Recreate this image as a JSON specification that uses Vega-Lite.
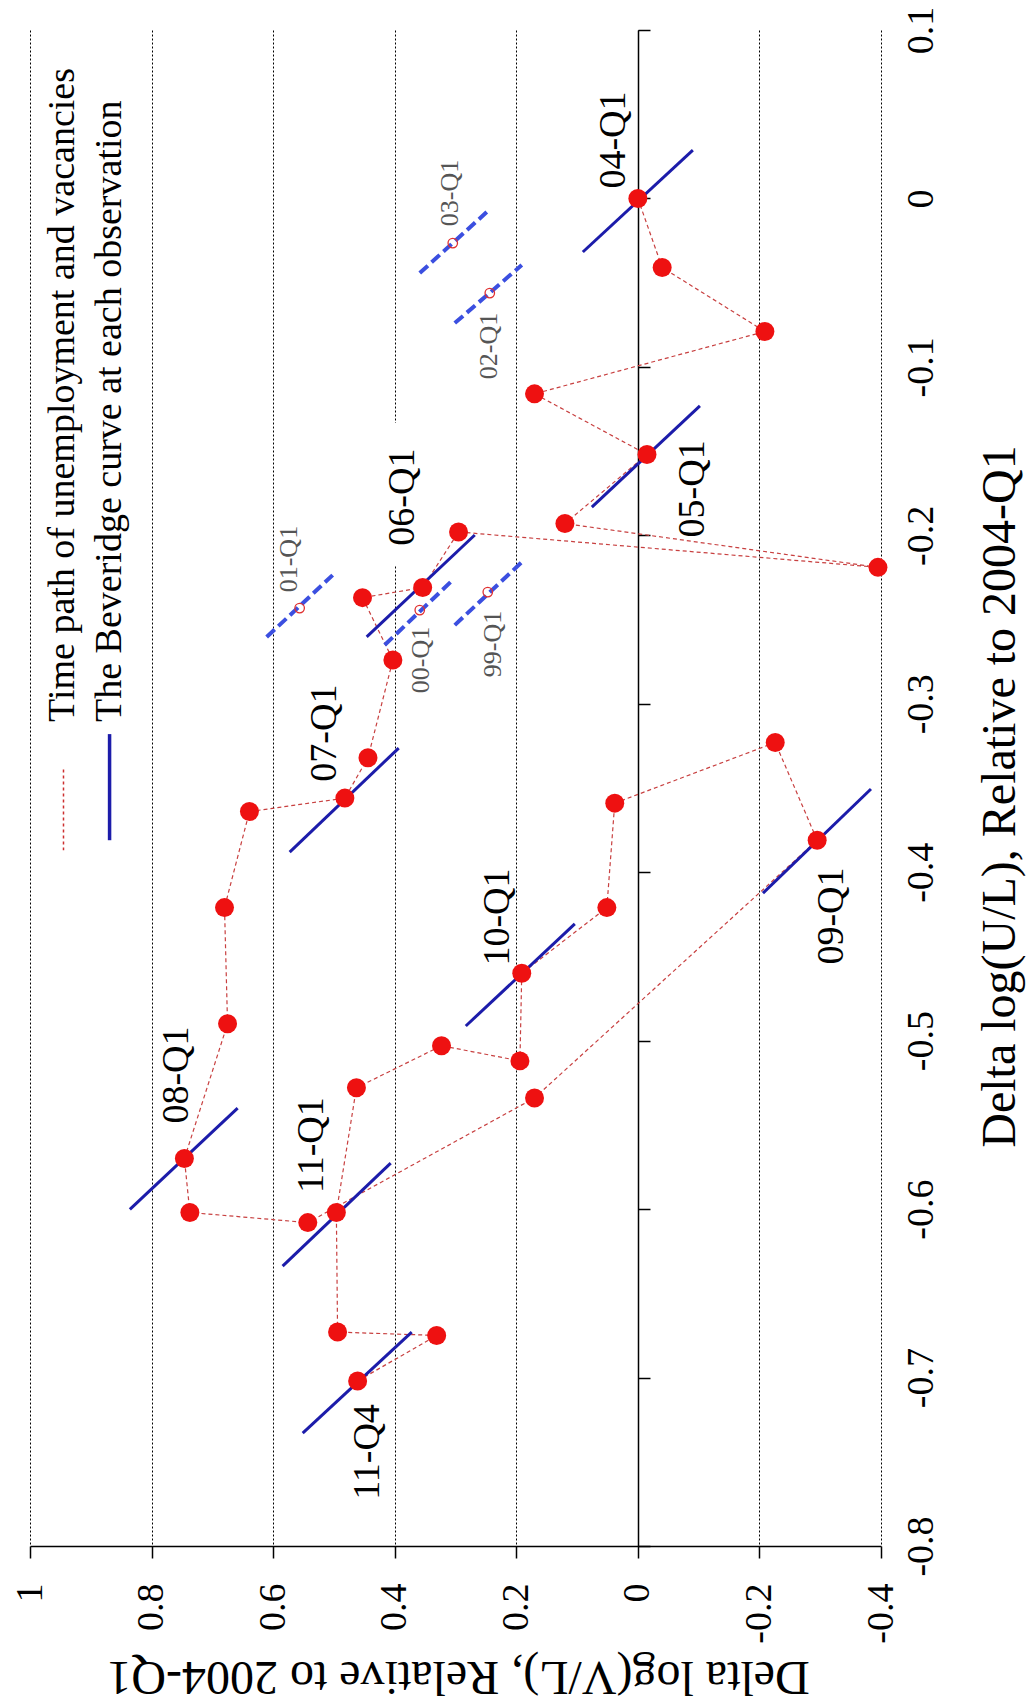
{
  "$schema": "https://vega.github.io/schema/vega-lite/v6.json",
  "width": 851,
  "height": 1516,
  "autosize": {"type": "none"},
  "padding": {"left": 30, "top": 30, "right": 145, "bottom": 157},
  "background": "white",
  "config": {"view": {"stroke": null}, "font": "Liberation Serif"},
  "datasets": {
    "path": [
      {"t": 0, "q": "04-Q1", "v": 0, "u": 0},
      {"t": 1, "q": "04-Q2", "v": -0.040, "u": -0.041},
      {"t": 2, "q": "04-Q3", "v": -0.209, "u": -0.079},
      {"t": 3, "q": "04-Q4", "v": 0.170, "u": -0.116},
      {"t": 4, "q": "05-Q1", "v": -0.015, "u": -0.152},
      {"t": 5, "q": "05-Q2", "v": 0.120, "u": -0.193},
      {"t": 6, "q": "05-Q3", "v": -0.395, "u": -0.219},
      {"t": 7, "q": "05-Q4", "v": 0.295, "u": -0.198},
      {"t": 8, "q": "06-Q1", "v": 0.354, "u": -0.231},
      {"t": 9, "q": "06-Q2", "v": 0.453, "u": -0.237},
      {"t": 10, "q": "06-Q3", "v": 0.403, "u": -0.274},
      {"t": 11, "q": "06-Q4", "v": 0.444, "u": -0.332},
      {"t": 12, "q": "07-Q1", "v": 0.482, "u": -0.356},
      {"t": 13, "q": "07-Q2", "v": 0.639, "u": -0.364},
      {"t": 14, "q": "07-Q3", "v": 0.680, "u": -0.421},
      {"t": 15, "q": "07-Q4", "v": 0.675, "u": -0.490},
      {"t": 16, "q": "08-Q1", "v": 0.746, "u": -0.570},
      {"t": 17, "q": "08-Q2", "v": 0.737, "u": -0.602},
      {"t": 18, "q": "08-Q3", "v": 0.543, "u": -0.608},
      {"t": 19, "q": "08-Q4", "v": 0.170, "u": -0.534},
      {"t": 20, "q": "09-Q1", "v": -0.295, "u": -0.381},
      {"t": 21, "q": "09-Q2", "v": -0.226, "u": -0.323},
      {"t": 22, "q": "09-Q3", "v": 0.038, "u": -0.359},
      {"t": 23, "q": "09-Q4", "v": 0.051, "u": -0.421},
      {"t": 24, "q": "10-Q1", "v": 0.191, "u": -0.460},
      {"t": 25, "q": "10-Q2", "v": 0.194, "u": -0.512},
      {"t": 26, "q": "10-Q3", "v": 0.323, "u": -0.503},
      {"t": 27, "q": "10-Q4", "v": 0.463, "u": -0.528},
      {"t": 28, "q": "11-Q1", "v": 0.496, "u": -0.602},
      {"t": 29, "q": "11-Q2", "v": 0.494, "u": -0.673},
      {"t": 30, "q": "11-Q3", "v": 0.331, "u": -0.675},
      {"t": 31, "q": "11-Q4", "v": 0.461, "u": -0.702}
    ],
    "seg": [
      {"q": "04-Q1", "v": 0.0905, "u": -0.0318, "v2": -0.0905, "u2": 0.0287},
      {"q": "05-Q1", "v": 0.0757, "u": -0.1832, "v2": -0.1021, "u2": -0.1232},
      {"q": "06-Q1", "v": 0.4461, "u": -0.2603, "v2": 0.2683, "u2": -0.1998},
      {"q": "07-Q1", "v": 0.5728, "u": -0.3881, "v2": 0.3934, "u2": -0.3263},
      {"q": "08-Q1", "v": 0.8357, "u": -0.6002, "v2": 0.6584, "u2": -0.5400},
      {"q": "09-Q1", "v": -0.2058, "u": -0.4124, "v2": -0.3835, "u2": -0.3506},
      {"q": "10-Q1", "v": 0.2831, "u": -0.4913, "v2": 0.1037, "u2": -0.4307},
      {"q": "11-Q1", "v": 0.5844, "u": -0.6338, "v2": 0.4066, "u2": -0.5727},
      {"q": "11-Q4", "v": 0.5514, "u": -0.7330, "v2": 0.3720, "u2": -0.6730}
    ],
    "dashseg": [
      {"q": "99-Q1", "v": 0.3012, "u": -0.2533, "v2": 0.1909, "u2": -0.2159},
      {"q": "00-Q1", "v": 0.4165, "u": -0.2651, "v2": 0.3045, "u2": -0.2265},
      {"q": "01-Q1", "v": 0.6107, "u": -0.2604, "v2": 0.5021, "u2": -0.2236},
      {"q": "02-Q1", "v": 0.3012, "u": -0.0740, "v2": 0.1909, "u2": -0.0395},
      {"q": "03-Q1", "v": 0.3588, "u": -0.0443, "v2": 0.2486, "u2": -0.0081}
    ],
    "hollow": [
      {"q": "99-Q1", "v": 0.2469, "u": -0.2337},
      {"q": "00-Q1", "v": 0.3588, "u": -0.2444},
      {"q": "01-Q1", "v": 0.5564, "u": -0.2432},
      {"q": "02-Q1", "v": 0.2436, "u": -0.0562},
      {"q": "03-Q1", "v": 0.3045, "u": -0.0265}
    ],
    "labels": [
      {"text": "04-Q1", "v": 0.0395, "u": 0.0347},
      {"text": "05-Q1", "v": -0.0905, "u": -0.1724},
      {"text": "06-Q1", "v": 0.3868, "u": -0.1773},
      {"text": "07-Q1", "v": 0.5152, "u": -0.3174},
      {"text": "08-Q1", "v": 0.7588, "u": -0.5204},
      {"text": "09-Q1", "v": -0.3193, "u": -0.4260},
      {"text": "10-Q1", "v": 0.2305, "u": -0.4266},
      {"text": "11-Q1", "v": 0.5366, "u": -0.5620},
      {"text": "11-Q4", "v": 0.4444, "u": -0.7442}
    ],
    "labelmask": [
      {"text": "06-Q1", "v": 0.4247, "u": -0.1333, "v2": 0.3506, "u2": -0.2176}
    ],
    "graylabels": [
      {"text": "99-Q1", "v": 0.2387, "u": -0.2645},
      {"text": "00-Q1", "v": 0.3572, "u": -0.2740},
      {"text": "01-Q1", "v": 0.5745, "u": -0.2141},
      {"text": "02-Q1", "v": 0.2453, "u": -0.0876},
      {"text": "03-Q1", "v": 0.3095, "u": 0.0032}
    ],
    "legendtext": [
      {"text": "Time path of unemployment and vacancies", "v": 0.9449, "u": -0.3108},
      {"text": "The Beveridge curve at each observation", "v": 0.8691, "u": -0.3108}
    ],
    "legendred": [{"v": 0.9449, "u": -0.339, "u2": -0.387}],
    "legendblue": [{"v": 0.8691, "u": -0.318, "u2": -0.381}]
  },
  "encoding": {
    "x": {
      "field": "v",
      "type": "quantitative",
      "scale": {"domain": [-0.4, 1], "reverse": true, "nice": false, "zero": false},
      "axis": {
        "orient": "bottom",
        "values": [1, 0.8, 0.6, 0.4, 0.2, 0, -0.2, -0.4],
        "labelExpr": "'' + datum.value",
        "labelAngle": -90,
        "labelAlign": "right",
        "labelBaseline": "middle",
        "labelPadding": 25,
        "labelFontSize": 38,
        "labelFont": "Liberation Serif",
        "labelColor": "black",
        "labelFlush": false,
        "labelOverlap": false,
        "domainColor": "black",
        "domainWidth": 1.5,
        "tickColor": "black",
        "tickSize": 12,
        "tickWidth": 1.5,
        "grid": true,
        "gridColor": "black",
        "gridDash": [2, 2],
        "gridWidth": 1,
        "gridOpacity": 1,
        "title": "Delta log(V/L), Relative to 2004-Q1",
        "titleFont": "Liberation Serif",
        "titleFontSize": 48,
        "titleFontWeight": "normal",
        "titleColor": "black",
        "titleAngle": 180,
        "titleX": 428,
        "titleY": 129,
        "titleAlign": "center",
        "titleBaseline": "middle"
      }
    },
    "y": {
      "field": "u",
      "type": "quantitative",
      "scale": {"domain": [-0.8, 0.1], "nice": false, "zero": false},
      "axis": {
        "orient": "right",
        "offset": -243,
        "values": [0.1, 0, -0.1, -0.2, -0.3, -0.4, -0.5, -0.6, -0.7, -0.8],
        "labelExpr": "'' + datum.value",
        "labelAngle": -90,
        "labelAlign": "center",
        "labelBaseline": "top",
        "labelPadding": 252,
        "labelFontSize": 38,
        "labelFont": "Liberation Serif",
        "labelColor": "black",
        "labelFlush": false,
        "labelOverlap": false,
        "domainColor": "black",
        "domainWidth": 1.5,
        "tickColor": "black",
        "tickSize": 12,
        "tickWidth": 1.5,
        "grid": false,
        "title": "Delta log(U/L), Relative to 2004-Q1",
        "titleFont": "Liberation Serif",
        "titleFontSize": 48,
        "titleFontWeight": "normal",
        "titleColor": "black",
        "titleAngle": -90,
        "titleX": 362,
        "titleY": 766,
        "titleAlign": "center",
        "titleBaseline": "middle"
      }
    }
  },
  "layer": [
    {
      "data": {"name": "labelmask"},
      "mark": {"type": "rect", "color": "white", "opacity": 1},
      "encoding": {"x2": {"field": "v2"}, "y2": {"field": "u2"}}
    },
    {
      "data": {"name": "path"},
      "mark": {"type": "line", "color": "#c84040", "strokeWidth": 1.2, "strokeDash": [4, 3]},
      "encoding": {"order": {"field": "t", "type": "quantitative"}}
    },
    {
      "data": {"name": "dashseg"},
      "mark": {"type": "rule", "color": "#3b4fe0", "strokeWidth": 4, "strokeDash": [11, 5]},
      "encoding": {"x2": {"field": "v2"}, "y2": {"field": "u2"}}
    },
    {
      "data": {"name": "seg"},
      "mark": {"type": "rule", "color": "#1c1caa", "strokeWidth": 3},
      "encoding": {"x2": {"field": "v2"}, "y2": {"field": "u2"}}
    },
    {
      "data": {"name": "hollow"},
      "mark": {"type": "point", "shape": "circle", "filled": false, "color": "#e03030", "size": 90, "strokeWidth": 1.3, "opacity": 1}
    },
    {
      "data": {"name": "path"},
      "mark": {"type": "circle", "color": "#ee1111", "size": 360, "opacity": 1}
    },
    {
      "data": {"name": "labels"},
      "mark": {"type": "text", "angle": -90, "align": "center", "baseline": "middle", "font": "Liberation Serif", "fontSize": 38, "color": "black"},
      "encoding": {"text": {"field": "text"}}
    },
    {
      "data": {"name": "graylabels"},
      "mark": {"type": "text", "angle": -90, "align": "center", "baseline": "middle", "font": "Liberation Serif", "fontSize": 26, "color": "#555555"},
      "encoding": {"text": {"field": "text"}}
    },
    {
      "data": {"name": "legendtext"},
      "mark": {"type": "text", "angle": -90, "align": "left", "baseline": "middle", "font": "Liberation Serif", "fontSize": 38, "color": "black"},
      "encoding": {"text": {"field": "text"}}
    },
    {
      "data": {"name": "legendred"},
      "mark": {"type": "rule", "color": "#cc3030", "strokeWidth": 1.5, "strokeDash": [3, 3]},
      "encoding": {"y2": {"field": "u2"}}
    },
    {
      "data": {"name": "legendblue"},
      "mark": {"type": "rule", "color": "#1c1caa", "strokeWidth": 3.5},
      "encoding": {"y2": {"field": "u2"}}
    }
  ]
}
